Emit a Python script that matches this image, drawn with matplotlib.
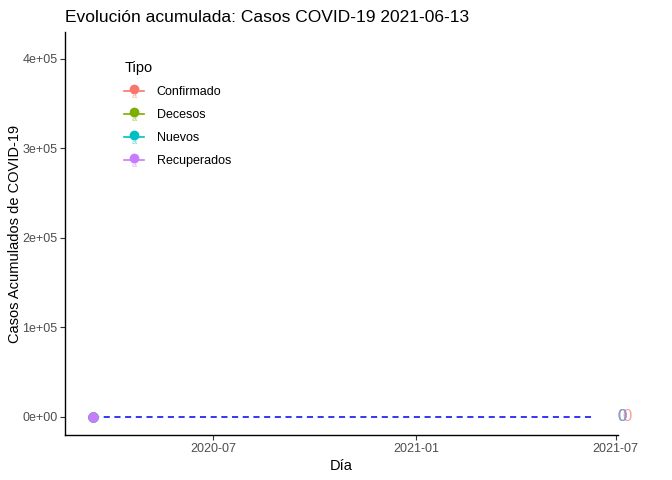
import numpy as np
import matplotlib
matplotlib.use("Agg")
import matplotlib.pyplot as plt
import matplotlib.dates as mdates
from matplotlib.lines import Line2D
from matplotlib.legend_handler import HandlerBase

plt.rcParams['font.family'] = ['Liberation Sans', 'DejaVu Sans']

# datos
tipos = ["Confirmado", "Decesos", "Nuevos", "Recuperados"]
colores = ["#F8766D", "#7CAE00", "#00BFC4", "#C77CFF"]
fecha_inicio = np.datetime64("2020-03-14")
fecha_fin = np.datetime64("2021-06-10")
fechas_etiqueta = np.array(["2021-07-11", "2021-07-07", "2021-07-07", "2021-07-07"], dtype="datetime64[D]")
valores = [0, 0, 0, 0]
fecha_titulo = "2021-06-13"


class HandlerKey(HandlerBase):
    # linea + punto + "a" como en la leyenda de ggplot
    def create_artists(self, legend, orig, xd, yd, w, h, fontsize, trans):
        c = orig.get_color()
        ln = Line2D([xd, xd + w], [yd + h / 2, yd + h / 2], color=c, lw=1.2, transform=trans)
        pt = Line2D([xd + w / 2], [yd + h / 2 + 1], marker="o", ms=6, color=c, lw=0, transform=trans)
        t = plt.Text(xd + w / 2, yd + h / 2 - 3, "a", color=c, fontsize=6.5, alpha=0.6,
                     ha="center", va="center", transform=trans, zorder=5)
        return [ln, pt, t]


fig = plt.figure(figsize=(6.72, 4.8), dpi=100)
ax = fig.add_axes([65 / 672, 45 / 480, 553 / 672, 403 / 480])

handles = []
for tipo, col, v, fe in zip(tipos, colores, valores, fechas_etiqueta):
    ax.plot([fecha_inicio], [v], marker="o", ms=6.5, color=col, lw=1.2)
    ax.text(fe, v, str(v), color=col, alpha=0.7, fontsize=12,
            ha="center", va="center", clip_on=False)
    handles.append(Line2D([], [], color=col, label=tipo))

ax.plot([fecha_inicio, fecha_fin], [0, 0], color="#0000EE", lw=1.1, dashes=(4, 3), zorder=1)

ax.set_xlim(np.datetime64("2020-02-18"), np.datetime64("2021-07-03"))
ax.set_ylim(-20500, 430000)
ax.set_yticks([0, 100000, 200000, 300000, 400000])
ax.set_yticklabels(["0e+00", "1e+05", "2e+05", "3e+05", "4e+05"])
ax.xaxis.set_major_locator(mdates.MonthLocator(bymonth=[1, 7]))
ax.xaxis.set_major_formatter(mdates.DateFormatter("%Y-%m"))

for s in ["top", "right"]:
    ax.spines[s].set_visible(False)
for s in ["left", "bottom"]:
    ax.spines[s].set_linewidth(1.0)
ax.tick_params(colors="#333333", labelcolor="#4D4D4D", labelsize=9, length=3.5, width=0.8, pad=2)

ax.set_xlabel("Día", fontsize=10.5, labelpad=3)
ax.set_ylabel("Casos Acumulados de COVID-19", fontsize=10.5, labelpad=0)
fig.text(65 / 672, 1 - 17 / 480, "Evolución acumulada: Casos COVID-19 " + fecha_titulo,
         fontsize=12.5, ha="left", va="center")

leg = ax.legend(handles=handles, title="Tipo", loc="upper left",
                bbox_to_anchor=(113 / 672, 1 - 50 / 480), bbox_transform=fig.transFigure,
                frameon=False, fontsize=9, title_fontsize=10.5,
                handler_map={Line2D: HandlerKey()}, handlelength=1.6,
                labelspacing=0.88, handletextpad=1.0)
leg._legend_box.align = "left"

fig.savefig("out.png", dpi=100)
